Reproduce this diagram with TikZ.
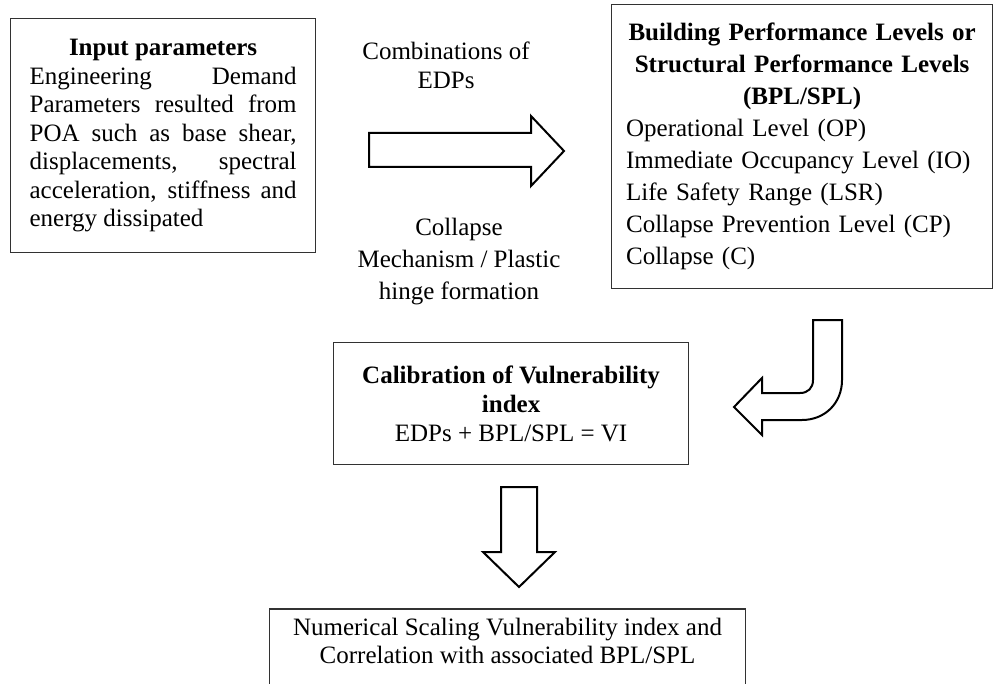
\documentclass[tikz,border=0pt]{standalone}
\usepackage{fontspec}
\setmainfont{Liberation Serif}
\usepackage{tikz}
\usetikzlibrary{positioning}
\usepackage{xcolor}
\definecolor{boxgray}{RGB}{50,50,50}

\begin{document}
\begin{tikzpicture}[x=0.5pt,y=-0.5pt,
  every node/.style={font=\fontsize{12.5}{15}\selectfont},
  infobox/.style={draw=boxgray,line width=0.6pt,inner sep=0pt},
  blockarrow/.style={draw=black,line width=1pt,fill=white,line join=miter},
  note/.style={align=center,inner sep=0pt}]
  \path[use as bounding box,clip] (0,0) rectangle (995,684);
  % Input box
  \node[infobox,anchor=north west,minimum width=152.5pt,minimum height=117pt,text width=133.5pt,
    align=justify,font=\fontsize{12.5}{14.25}\selectfont] (input) at (10,18)
    {{\centering\bfseries Input parameters\par}
     \tolerance=10000 \hyphenpenalty=10000
     Engineering Demand\linebreak Parameters resulted from\linebreak
     POA such as base shear,\linebreak displacements, spectral\linebreak
     acceleration, stiffness and\linebreak energy dissipated\par};
  % Performance levels
  \node[infobox,anchor=north west,minimum width=190.5pt,minimum height=142pt,text width=176pt,
    align=left,font=\fontsize{12.5}{16}\selectfont] (levels) at (611,4)
    {{\centering\bfseries Building Performance Levels or\\Structural Performance Levels\\(BPL/SPL)\par}
     Operational Level (OP)\\Immediate Occupancy Level (IO)\\Life Safety Range (LSR)\\
     Collapse Prevention Level (CP)\\Collapse (C)};
  % Texts between
  \node[note,font=\fontsize{12.5}{14.5}\selectfont] (combos) at (446,65) {Combinations of\\EDPs};
  \node[note,font=\fontsize{12.5}{16}\selectfont] (mechanism) at (459,262)
    {Collapse\\Mechanism / Plastic\\hinge formation};
  % Calibration
  \node[infobox,anchor=north west,minimum width=177.5pt,minimum height=61pt,align=center,
    font=\fontsize{12.5}{14.5}\selectfont] (calib) at (333,342)
    {\textbf{Calibration of Vulnerability}\\\textbf{index}\\EDPs + BPL/SPL = VI};
  % Scaling (cut at bottom)
  \node[anchor=north,minimum width=237.5pt,inner xsep=0pt,inner ysep=4.5pt,align=center,
    font=\fontsize{12.5}{14}\selectfont] (scaling) at (507.5,609)
    {Numerical Scaling Vulnerability index and\\Correlation with associated BPL/SPL};
  \draw[draw=boxgray,line width=0.6pt] ([yshift=-60pt]scaling.north west) -- (scaling.north west)
    -- (scaling.north east) -- ([yshift=-60pt]scaling.north east);
  % Block arrows
  \draw[blockarrow] (369,133) -- (531,133) -- (531,116) -- (564,151) -- (531,186) -- (531,167)
    -- (369,167) -- cycle;
  \draw[blockarrow] (813,320) -- (842,320) -- (842,380) .. controls (842,403) and (825,420) .. (802,420)
    -- (762,420) -- (762,435) -- (734,407) -- (762,378) -- (762,393) -- (800,393)
    .. controls (808,393) and (813,388) .. (813,380) -- cycle;
  \draw[blockarrow] (501,487) -- (537,487) -- (537,552) -- (555,552) -- (519,587) -- (483,552)
    -- (501,552) -- cycle;
\end{tikzpicture}
\end{document}
